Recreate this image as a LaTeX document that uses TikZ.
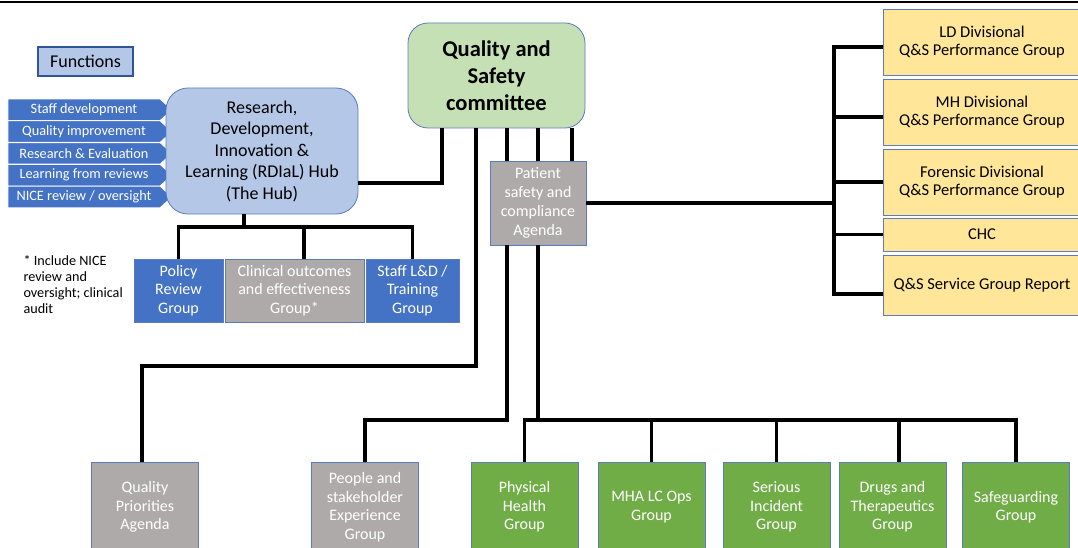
\documentclass[tikz,border=0pt]{standalone}
\usepackage{fontspec}
\setmainfont{Carlito}
\usepackage{xcolor}
\usetikzlibrary{shapes.symbols, positioning}
\definecolor{paleblue}{HTML}{B4C7E7}
\definecolor{midblue}{HTML}{4472C4}
\definecolor{edgeblue}{HTML}{5B7BBE}
\definecolor{darkblue}{HTML}{2F5597}
\definecolor{palegreen}{HTML}{C5E0B4}
\definecolor{leafgreen}{HTML}{70AD47}
\definecolor{stone}{HTML}{AEAAAA}
\definecolor{butter}{HTML}{FFE699}
\tikzstyle{link} = [line width=3.2pt, black]
\tikzstyle{box} = [draw=edgeblue, line width=0.8pt, align=center, inner sep=2pt]
\tikzstyle{fnbox} = [box, draw=darkblue, line width=1.2pt, fill=paleblue, minimum width=95pt, minimum height=29pt, font=\fontsize{18}{21}\selectfont]
\tikzstyle{tag} = [signal, signal to=east, signal pointer angle=85, fill=midblue, draw=white, line width=0.8pt, text=white, minimum width=164pt, minimum height=21.5pt, inner sep=1pt, font=\fontsize{14.3}{15}\selectfont]
\tikzstyle{hubbox} = [box, fill=paleblue, rounded corners=22pt, minimum width=192pt, minimum height=126pt, font=\fontsize{18}{21.5}\selectfont]
\tikzstyle{qscbox} = [box, fill=palegreen, rounded corners=20pt, minimum width=177pt, minimum height=105pt, font=\bfseries\fontsize{22.5}{27}\selectfont]
\tikzstyle{greybox} = [box, fill=stone, text=white, font=\fontsize{16}{18.5}\selectfont]
\tikzstyle{bluebox} = [box, fill=midblue, text=white, minimum height=63pt, font=\fontsize{16}{18.5}\selectfont]
\tikzstyle{yellowbox} = [box, fill=butter, minimum width=197pt, font=\fontsize{16.5}{18}\selectfont]
\tikzstyle{greenbox} = [box, fill=leafgreen, text=white, minimum width=107pt, minimum height=90pt, font=\fontsize{16}{18.5}\selectfont]
\tikzstyle{lowbox} = [greybox, minimum width=107pt, minimum height=90pt]

\begin{document}
\begin{tikzpicture}[x=1pt, y=-1pt]
\useasboundingbox (0,0) rectangle (1078,548);
\draw[line width=1.2pt] (0,2) -- (1078,2);

% functions and the hub
\node[fnbox] (functions) at (85.5,61.5) {Functions};
\foreach \lbl [count=\i] in {Staff development, Quality improvement, Research \& Evaluation, Learning from reviews, NICE review / oversight}
  \node[tag] (tag\i) at (84,88+21.8*\i) {\lbl};
\node[hubbox] (hub) at (262,151) {Research,\\Development,\\Innovation \&\\Learning (RDIaL) Hub\\(The Hub)};

\node[bluebox, minimum width=89pt] (policy) at (178.5,290.5) {Policy\\Review\\Group};
\node[greybox, minimum width=139pt, minimum height=63pt] (clinical) at (294.5,290.5) {Clinical outcomes\\and effectiveness\\Group*};
\node[bluebox, minimum width=93pt] (staff) at (412.5,290.5) {Staff L\&D /\\Training\\Group};
\node[anchor=west, align=left, font=\fontsize{14.2}{15.7}\selectfont] (note) at (20,284.5) {* Include NICE\\review and\\oversight; clinical\\audit};

% committee and agenda
\node[qscbox] (qsc) at (496.5,75.5) {Quality and\\Safety\\committee};
\node[greybox, minimum width=96pt, minimum height=84pt, font=\fontsize{16}{19}\selectfont] (psca) at (538,203) {Patient\\safety and\\compliance\\Agenda};

% divisional groups
\node[yellowbox, minimum height=66pt] (ld) at (982,42) {LD Divisional\\Q\&S Performance Group};
\node[yellowbox, minimum height=66pt] (mh) at (982,112) {MH Divisional\\Q\&S Performance Group};
\node[yellowbox, minimum height=66pt] (forensic) at (982,182) {Forensic Divisional\\Q\&S Performance Group};
\node[yellowbox, minimum height=33pt] (chc) at (982,234.5) {CHC};
\node[yellowbox, minimum height=60pt] (qss) at (982,285) {Q\&S Service Group Report};

% bottom row
\node[lowbox] (qp) at (145,507) {Quality\\Priorities\\Agenda};
\node[lowbox] (people) at (365,507) {People and\\stakeholder\\Experience\\Group};
\node[greenbox] (phys) at (524.5,507) {Physical\\Health\\Group};
\node[greenbox] (mha) at (651.5,507) {MHA LC Ops\\Group};
\node[greenbox] (serious) at (776.5,507) {Serious\\Incident\\Group};
\node[greenbox] (drugs) at (892.5,507) {Drugs and\\Therapeutics\\Group};
\node[greenbox] (safe) at (1016,507) {Safeguarding\\Group};

% connectors
\coordinate (hubbus) at (244,227);
\coordinate (qpturn) at (476,366);
\coordinate (pplturn) at (507,420);
\coordinate (grnbus) at (538,420);
\coordinate (brtop) at (834,47);
\coordinate (brbot) at (834,294);
\draw[link] ([xshift=-18pt]hub.south) -- (hubbus);
\draw[link] (policy.north) |- (hubbus) -| (staff.north);
\draw[link] ([xshift=9.5pt]clinical.north) -- ([xshift=9.5pt]clinical.north |- hubbus);
\draw[link] ([yshift=-32pt]hub.east) -| ([xshift=-54.5pt]qsc.south);
\foreach \dx in {-31,0,34}
  \draw[link] ([xshift=\dx pt]psca.north) -- ([xshift=\dx pt]psca.north |- qsc.south);
\draw[link] ([xshift=-20.5pt]qsc.south) -- (qpturn) -| ([xshift=-3pt]qp.north);
\draw[link] ([xshift=-31pt]psca.south) -- (pplturn) -| (people.north);
\draw[link] (psca.south) -- (grnbus);
\draw[link] (phys.north) |- (grnbus) -| (safe.north);
\draw[link] (mha.north) -- (mha.north |- grnbus);
\draw[link] (serious.north) -- (serious.north |- grnbus);
\draw[link] ([xshift=6.5pt]drugs.north) -- ([xshift=6.5pt]drugs.north |- grnbus);
\draw[link] (psca.east) -- (psca.east -| brtop);
\draw[link] (ld.west |- brtop) -- (brtop) -- (brbot) -- (brbot -| qss.west);
\draw[link] ([yshift=-5pt]mh.west) -- ([yshift=-5pt]mh.west -| brtop);
\draw[link] (forensic.west) -- (forensic.west -| brtop);
\draw[link] (chc.west) -- (chc.west -| brtop);
\end{tikzpicture}
\end{document}
